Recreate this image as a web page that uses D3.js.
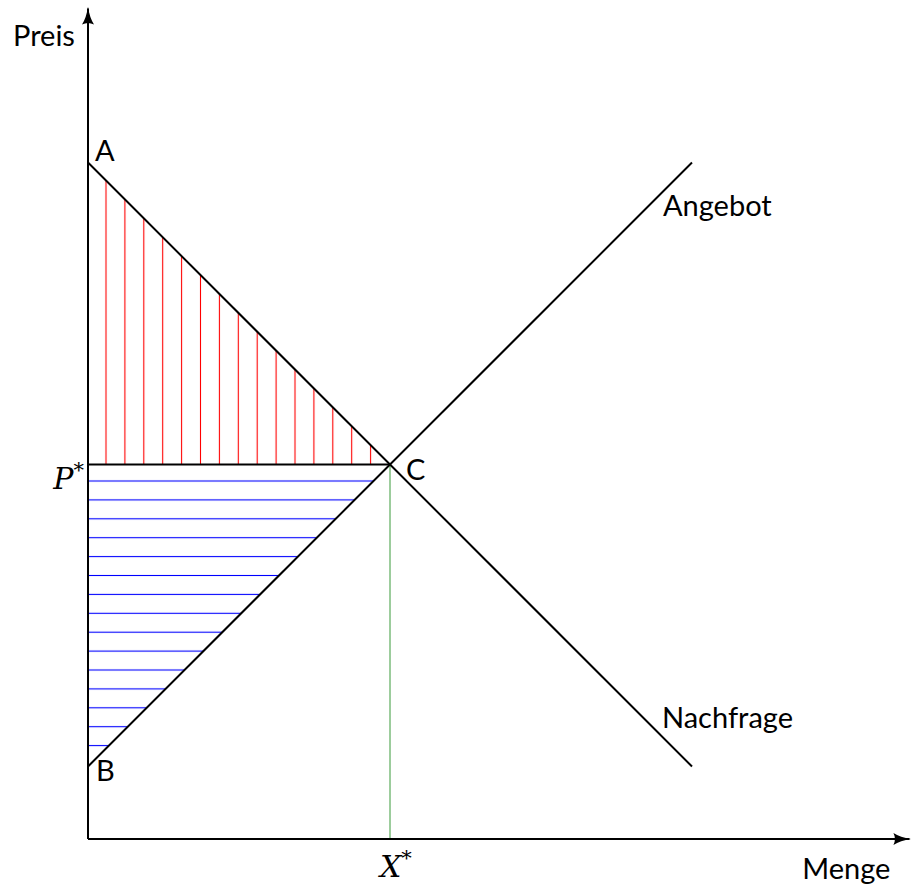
<!DOCTYPE html>
<html>
<head>
<meta charset="utf-8">
<script src="https://cdn.jsdelivr.net/npm/d3@7"></script>
<style>
  body { margin: 0; background: #fff; }
  svg text { font-family: Lato, "Open Sans", sans-serif; fill: #000; }
  .math { font-family: "DejaVu Serif", serif; font-style: italic; }
</style>
</head>
<body>
<div id="chart"></div>
<script>
// market data (quantity, price) in abstract units
var quantities = [0, 10];
var demandPrices = [11.2, 1.2];
var supplyPrices = [1.2, 11.2];
var eqQuantity = 5;
var eqPrice = 6.2;
var axisMax = { x: 13.6, y: 13.75 };
var pointLabels = ["A", "B", "C"];
var curveLabels = ["Angebot", "Nachfrage"];
var axisLabels = ["Preis", "Menge"];

var width = 912, height = 884;
var x = d3.scaleLinear().domain([0, 10]).range([88, 692]);
var y = d3.scaleLinear().domain([0, 10]).range([839, 235]);

var svg = d3.select("#chart").append("svg")
    .attr("width", width)
    .attr("height", height);
var defs = svg.append("defs");

// arrow head for axes
defs.append("marker")
    .attr("id", "arrow")
    .attr("viewBox", "0 -7 18 14")
    .attr("refX", 16)
    .attr("refY", 0)
    .attr("markerWidth", 18)
    .attr("markerHeight", 14)
    .attr("markerUnits", "userSpaceOnUse")
    .attr("orient", "auto")
    .append("path")
    .attr("d", "M0,-6 Q7,-1.5 18,0 Q7,1.5 0,6 Q3,0 0,-6 Z")
    .attr("fill", "#000");

var step = 18.9; // hatch spacing (px)
var vp = defs.append("pattern")
    .attr("id", "vlines")
    .attr("patternUnits", "userSpaceOnUse")
    .attr("x", 106 - step / 2).attr("y", 0)
    .attr("width", step).attr("height", step);
vp.append("line")
    .attr("x1", step / 2).attr("x2", step / 2)
    .attr("y1", 0).attr("y2", step)
    .attr("stroke", "#ff0000").attr("stroke-width", 1.1);

var hp = defs.append("pattern")
    .attr("id", "hlines")
    .attr("patternUnits", "userSpaceOnUse")
    .attr("x", 0).attr("y", 481 - step / 2)
    .attr("width", step).attr("height", step);
hp.append("line")
    .attr("y1", step / 2).attr("y2", step / 2)
    .attr("x1", 0).attr("x2", step)
    .attr("stroke", "#0000ff").attr("stroke-width", 1.1);

var line = d3.line().x(function(d){ return x(d[0]); }).y(function(d){ return y(d[1]); });

// consumer surplus (red) and producer surplus (blue)
svg.append("path")
    .attr("d", line([[0, demandPrices[0]], [0, eqPrice], [eqQuantity, eqPrice]]) + "Z")
    .attr("fill", "url(#vlines)");
svg.append("path")
    .attr("d", line([[0, eqPrice], [0, supplyPrices[0]], [eqQuantity, eqPrice]]) + "Z")
    .attr("fill", "url(#hlines)");

// equilibrium quantity drop line
svg.append("line")
    .attr("x1", x(eqQuantity)).attr("x2", x(eqQuantity))
    .attr("y1", y(eqPrice)).attr("y2", y(0))
    .attr("stroke", "#3a9a3a").attr("stroke-width", 1);

// price line P*
svg.append("line")
    .attr("x1", x(0)).attr("x2", x(eqQuantity))
    .attr("y1", y(eqPrice)).attr("y2", y(eqPrice))
    .attr("stroke", "#000").attr("stroke-width", 2);

// supply and demand curves
var demand = quantities.map(function(q, i){ return [q, demandPrices[i]]; });
var supply = quantities.map(function(q, i){ return [q, supplyPrices[i]]; });
[demand, supply].forEach(function(c){
    svg.append("path")
        .attr("d", line(c))
        .attr("fill", "none")
        .attr("stroke", "#000")
        .attr("stroke-width", 2);
});

// axes
svg.append("line")
    .attr("x1", x(0)).attr("y1", y(0))
    .attr("x2", x(axisMax.x)).attr("y2", y(0))
    .attr("stroke", "#000").attr("stroke-width", 2)
    .attr("marker-end", "url(#arrow)");
svg.append("line")
    .attr("x1", x(0)).attr("y1", y(0))
    .attr("x2", x(0)).attr("y2", y(axisMax.y))
    .attr("stroke", "#000").attr("stroke-width", 2)
    .attr("marker-end", "url(#arrow)");

var fs = 29;
function label(txt, px, py, cls) {
    return svg.append("text")
        .attr("x", px).attr("y", py)
        .attr("font-size", fs)
        .attr("class", cls || null)
        .text(txt);
}
// axis titles
label(axisLabels[0], x(0) - 75, 46);
label(axisLabels[1], x(axisMax.x) - 19, 879).attr("text-anchor", "end");

// point labels
label(pointLabels[0], x(0) + 7, y(demandPrices[0]) - 2);
label(pointLabels[1], x(0) + 8, y(supplyPrices[0]) + 14);
label(pointLabels[2], x(eqQuantity) + 16, y(eqPrice) + 15);

// curve labels
label(curveLabels[0], x(quantities[1]) - 29, y(supplyPrices[1]) + 53);
label(curveLabels[1], x(quantities[1]) - 30, y(demandPrices[1]) - 39);

// equilibrium labels P*, X*
var p = svg.append("text").attr("class", "math")
    .attr("x", x(0) - 4).attr("y", y(eqPrice) + 24)
    .attr("text-anchor", "end")
    .attr("font-size", 30);
p.append("tspan").text("P");
p.append("tspan").attr("dy", -12).attr("font-size", 21).attr("font-style", "normal").text("*");

var xs = svg.append("text").attr("class", "math")
    .attr("x", x(eqQuantity) - 10).attr("y", y(0) + 38)
    .attr("font-size", 30);
xs.append("tspan").text("X");
xs.append("tspan").attr("dy", -12).attr("font-size", 21).attr("font-style", "normal").text("*");
</script>
</body>
</html>
